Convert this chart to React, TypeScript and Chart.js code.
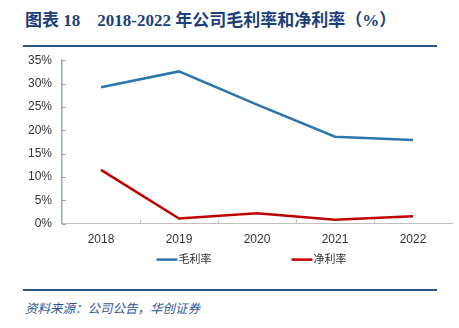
import React, { useEffect, useRef } from "react";
import { Chart, registerables } from "chart.js";

Chart.register(...registerables);

const categories = ["2018", "2019", "2020", "2021", "2022"];
const grossMargin = [29.2, 32.6, 25.5, 18.6, 17.9];
const netMargin = [11.5, 1.1, 2.2, 0.8, 1.6];
const seriesNames = ["毛利率", "净利率"];
const seriesColors = ["#2a77ad", "#c00000"];
const yTicks = { min: 0, max: 35, step: 5 };

const FONT = '"Liberation Sans", Arial, "Noto Sans CJK SC", sans-serif';

const innerTicks = {
  id: "innerTicks",
  afterDraw(chart: any) {
    const ctx = chart.ctx;
    const x = chart.scales.x;
    const y = chart.scales.y;
    const area = chart.chartArea;
    ctx.save();
    ctx.lineWidth = 1;
    ctx.strokeStyle = "#8eaabf";
    y.ticks.forEach((_t: any, i: number) => {
      const py = Math.round(y.getPixelForTick(i)) + 0.5;
      ctx.beginPath();
      ctx.moveTo(area.left, py);
      ctx.lineTo(area.left + 4, py);
      ctx.stroke();
    });
    ctx.strokeStyle = "#c0c0c0";
    const n = categories.length;
    const spacing = x.getPixelForValue(1) - x.getPixelForValue(0);
    for (let i = 1; i < n; i++) {
      const px = Math.round(x.getPixelForValue(i) - spacing / 2) + 0.5;
      ctx.beginPath();
      ctx.moveTo(px, area.bottom);
      ctx.lineTo(px, area.bottom - 4);
      ctx.stroke();
    }
    ctx.restore();
  },
};

const customLegend = {
  id: "customLegend",
  afterDraw(chart: any) {
    const ctx = chart.ctx;
    const area = chart.chartArea;
    const ly = area.bottom + 36;
    const cx = chart.width / 2 + 8;
    const starts = [cx - 81, cx + 54];
    ctx.save();
    ctx.font = `11px ${FONT}`;
    ctx.textBaseline = "middle";
    ctx.fillStyle = "#333333";
    chart.data.datasets.forEach((ds: any, i: number) => {
      const sx = starts[i];
      ctx.strokeStyle = ds.borderColor;
      ctx.lineWidth = 2.5;
      ctx.beginPath();
      ctx.moveTo(sx, ly);
      ctx.lineTo(sx + 21, ly);
      ctx.stroke();
      ctx.fillText(ds.label, sx + 22, ly);
    });
    ctx.restore();
  },
};

function LineChart() {
  const ref = useRef<HTMLCanvasElement | null>(null);
  useEffect(() => {
    if (!ref.current) return;
    const chart = new Chart(ref.current, {
      type: "line",
      data: {
        labels: categories,
        datasets: [
          {
            label: seriesNames[0],
            data: grossMargin,
            borderColor: seriesColors[0],
            backgroundColor: seriesColors[0],
            borderWidth: 2.5,
            pointRadius: 0,
            tension: 0,
          },
          {
            label: seriesNames[1],
            data: netMargin,
            borderColor: seriesColors[1],
            backgroundColor: seriesColors[1],
            borderWidth: 2.5,
            pointRadius: 0,
            tension: 0,
          },
        ],
      },
      options: {
        animation: false,
        responsive: false,
        maintainAspectRatio: false,
        layout: { padding: { left: 0, right: 7, top: 3, bottom: 17 } },
        plugins: {
          legend: { display: false },
          tooltip: { enabled: false },
        },
        scales: {
          x: {
            offset: true,
            grid: { display: false, drawTicks: false },
            border: { display: true, color: "#c0c0c0", width: 1 },
            ticks: {
              padding: 9,
              color: "#333333",
              font: { family: FONT, size: 12 },
              maxRotation: 0,
            },
          },
          y: {
            min: yTicks.min,
            max: yTicks.max,
            afterFit: (scale: any) => {
              scale.width = 62;
            },
            grid: { display: false, drawTicks: false },
            border: { display: true, color: "#8eaabf", width: 1.5 },
            ticks: {
              stepSize: yTicks.step,
              padding: 10,
              color: "#333333",
              font: { family: FONT, size: 12 },
              callback: (v: any) => `${v}%`,
            },
          },
        },
      },
      plugins: [innerTicks, customLegend],
    });
    return () => chart.destroy();
  }, []);
  return <canvas ref={ref} width={459} height={230} style={{ display: "block" }} />;
}

export default function App() {
  return (
    <div
      style={{
        position: "fixed",
        left: 0,
        top: 0,
        width: 459,
        height: 328,
        background: "#ffffff",
        overflow: "hidden",
      }}
    >
      <div
        style={{
          position: "absolute",
          left: 25,
          top: 10,
          fontFamily: '"Liberation Serif", "Times New Roman", "Noto Sans CJK SC", serif',
          fontWeight: "bold",
          fontSize: 17,
          color: "#1b3f7a",
          whiteSpace: "pre",
          lineHeight: "22px",
        }}
      >
        {"图表 18    2018-2022 年公司毛利率和净利率（%）"}
      </div>
      <div
        style={{
          position: "absolute",
          left: 23,
          top: 45,
          width: 414,
          height: 2,
          background: "#2b5491",
        }}
      />
      <div style={{ position: "absolute", left: 0, top: 43 }}>
        <LineChart />
      </div>
      <div
        style={{
          position: "absolute",
          left: 23,
          top: 289,
          width: 414,
          height: 2,
          background: "#2b5491",
        }}
      />
      <div
        style={{
          position: "absolute",
          left: 25,
          top: 299,
          fontFamily: '"Noto Sans CJK SC", sans-serif',
          fontStyle: "italic",
          fontSize: 12.5,
          color: "#2f5597",
          lineHeight: "18px",
          whiteSpace: "pre",
        }}
      >
        资料来源：公司公告，华创证券
      </div>
    </div>
  );
}
